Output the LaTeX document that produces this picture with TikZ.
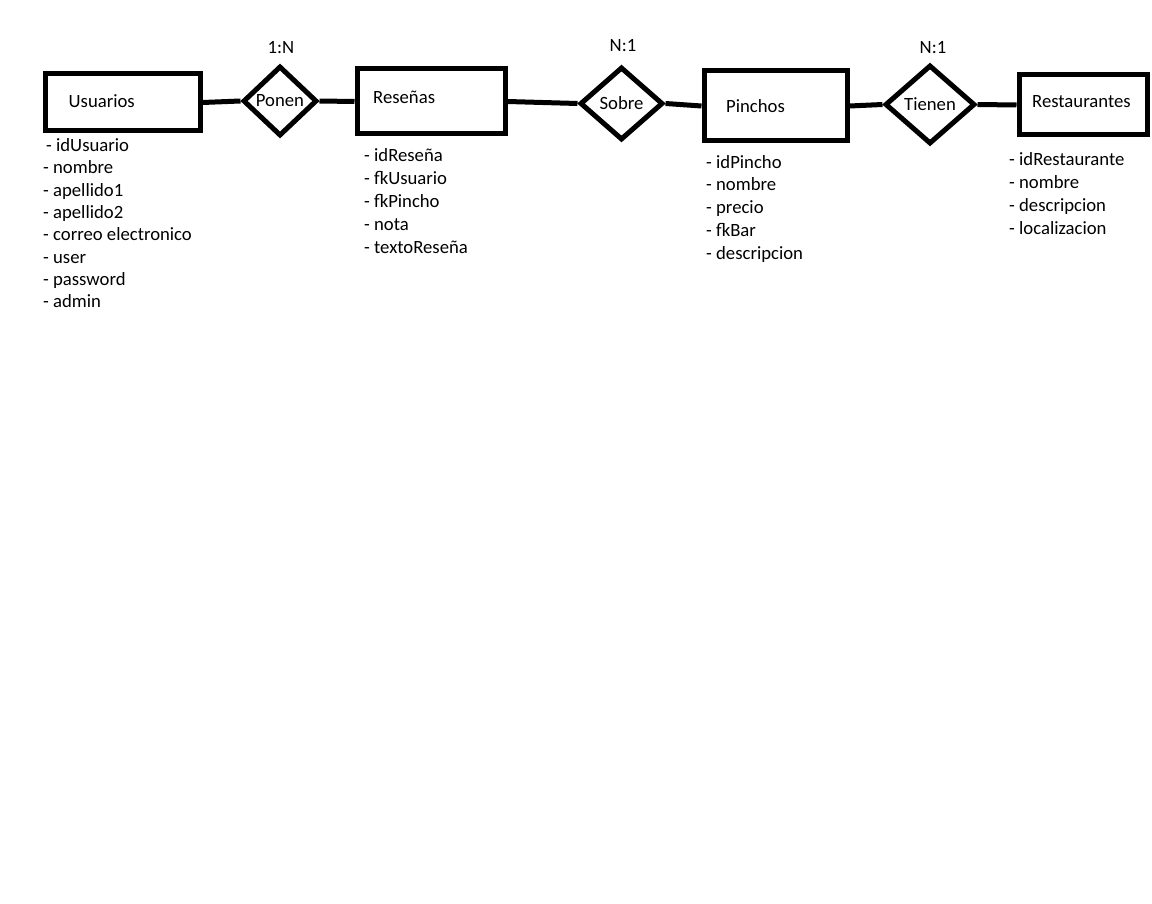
\documentclass[tikz,border=0pt]{standalone}
\usepackage{fontspec}
\setmainfont{Carlito}
\usetikzlibrary{shapes.geometric}

\begin{document}
\begin{tikzpicture}[x=1pt, y=-1pt,
  every node/.style={font=\fontsize{18.7}{22.8}\selectfont},
  entity/.style={draw, line width=5pt, rectangle, inner sep=0pt},
  rel/.style={draw, line width=5pt, diamond, inner sep=0pt},
  boxlabel/.style={anchor=west, inner sep=0pt},
  attrs/.style={anchor=base west, inner sep=0pt, align=left},
  conn/.style={line width=5pt}]
\useasboundingbox (0,0) rectangle (1152,904);
%
\node[entity, minimum width=155pt, minimum height=57pt] (usuarios) at (122.5,102.5) {};
\node[entity, minimum width=148pt, minimum height=65pt] (resenas) at (431,101.5) {};
\node[entity, minimum width=143pt, minimum height=70pt] (pinchos) at (775.5,106) {};
\node[entity, minimum width=128pt, minimum height=60pt] (restaurantes) at (1083,105) {};
%
\node[boxlabel] (tUsuarios) at (68.5,101) {Usuarios};
\node[boxlabel] (tResenas) at (373,97) {Reseñas};
\node[boxlabel] (tPinchos) at (726,106) {Pinchos};
\node[boxlabel] (tRestaurantes) at (1032,102) {Restaurantes};
%
\node[rel, minimum width=74pt, minimum height=70pt] (ponen) at (280,101) {Ponen};
\node[rel, minimum width=83pt, minimum height=73pt] (sobre) at (621.5,103.5) {Sobre};
\node[rel, minimum width=90pt, minimum height=79pt] (tienen) at (930,104.5) {Tienen};
%
\node (cPonen) at (281,48) {1:N};
\node (cSobre) at (623,46) {N:1};
\node (cTienen) at (933,48) {N:1};
%
\draw[conn] (usuarios.east) -- (ponen.west);
\draw[conn] (ponen.east) -- (resenas.west);
\draw[conn] (resenas.east) -- (sobre.west);
\draw[conn] (sobre.east) -- (pinchos.west);
\draw[conn] (pinchos.east) -- (tienen.west);
\draw[conn] (tienen.east) -- (restaurantes.west);
%
% anchor is the baseline of the last line
\node[attrs, font=\fontsize{18.7}{22.3}\selectfont] (aUsuarios) at (43,307.6)
  {\hspace{3pt}- idUsuario\\- nombre\\- apellido1\\- apellido2\\- correo electronico\\- user\\- password\\- admin};
\node[attrs] (aResenas) at (364,253.2)
  {- idReseña\\- fkUsuario\\- fkPincho\\- nota\\- textoReseña};
\node[attrs] (aPinchos) at (706,259.2)
  {- idPincho\\- nombre\\- precio\\- fkBar\\- descripcion};
\node[attrs] (aRestaurantes) at (1009,234.4)
  {- idRestaurante\\- nombre\\- descripcion\\- localizacion};
\end{tikzpicture}
\end{document}
